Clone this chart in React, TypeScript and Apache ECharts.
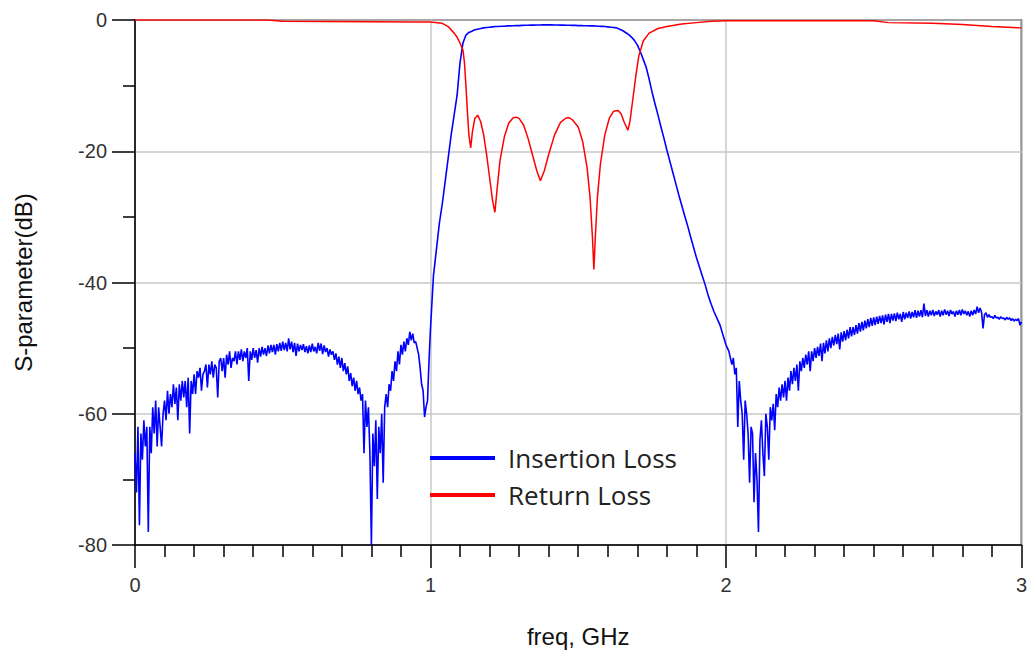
import React, { useEffect, useRef } from "react";
import * as echarts from "echarts";

// Insertion loss, stop band below the filter: 0.000 .. 0.995 GHz, every 0.005 GHz
const lowBandStart = 0;
const lowBandStep = 0.005;
const lowBandDb = [
  -66, -72, -62, -77, -63, -67, -61, -65, -62, -78,
  -62, -66, -59, -63, -58, -65, -59, -62, -65, -60,
  -58, -61, -56.5, -60, -57, -59, -55.5, -58.5, -56, -61,
  -55.5, -58, -55, -57.5, -55, -59, -54.5, -63, -55, -57,
  -54, -57, -53.5, -54.5, -53, -56.5, -54, -53.5, -52.5, -56,
  -52.5, -54, -52, -54.5, -52.5, -53, -57.5, -52, -51.5, -53.5,
  -51.5, -54.5, -51, -52.5, -50.5, -53, -51.5, -52, -50.5, -52.5,
  -50.5, -51.8, -50.2, -52, -50.5, -51.5, -50, -55, -50.5, -51.8,
  -50, -51.5, -50.3, -52.2, -50, -51.3, -49.8, -51, -50, -51.2,
  -49.6, -50.8, -49.5, -50.6, -49.5, -51, -49.4, -50.5, -49.2, -50.4,
  -49, -50.3, -49.2, -50.5, -48.5, -50.2, -49, -50.6, -49.2, -51.2,
  -49.3, -50.5, -49.5, -50.3, -49.4, -50.6, -49.7, -50.8, -49.6, -50.6,
  -49.3, -50.5, -49.8, -50.8, -49.2, -50.4, -49.3, -50.9, -49.6, -50.6,
  -50, -51.3, -50.2, -51, -50.5, -51.8, -50.8, -52.5, -51.3, -53,
  -51.5, -53.5, -52.3, -54, -52.8, -55, -53.8, -55.8, -54.5, -56.5,
  -55, -57, -56, -58, -57, -66, -58, -62, -59, -66,
  -80, -63, -68, -61, -73, -62, -66, -60, -70.5, -59,
  -57, -59, -55.5, -56.5, -53.5, -55, -52, -53.5, -50.5, -52.5,
  -49.5, -51, -49, -50.5, -48.5, -49.5, -47.5, -48.8, -47.8, -49.2,
  -49, -50, -51, -53, -55.5, -56.5, -60.5, -59, -58, -52,
];

// Insertion loss, pass band and skirts: 1.00 .. 1.99 GHz, every 0.01 GHz
const passBandStart = 1;
const passBandStep = 0.01;
const passBandDb = [
  -47, -39, -35, -31, -28, -24.5, -21, -17.5, -14.5, -11.5,
  -6.5, -3.5, -2.3, -1.9, -1.7, -1.5, -1.4, -1.3, -1.2, -1.15,
  -1.1, -1.05, -1.0, -1.0, -0.95, -0.95, -0.9, -0.9, -0.88, -0.85,
  -0.85, -0.82, -0.8, -0.8, -0.78, -0.78, -0.76, -0.76, -0.75, -0.75,
  -0.75, -0.75, -0.76, -0.76, -0.78, -0.78, -0.8, -0.8, -0.82, -0.82,
  -0.85, -0.85, -0.88, -0.88, -0.9, -0.9, -0.92, -0.95, -0.97, -1.0,
  -1.05, -1.1, -1.15, -1.2, -1.4, -1.6, -1.9, -2.2, -2.6, -3.1,
  -3.8, -4.8, -6, -7.2, -9, -11, -12.8, -14.5, -16.3, -18,
  -19.8, -21.5, -23.2, -24.9, -26.6, -28.2, -29.8, -31.3, -33, -34.6,
  -36.2, -37.6, -39, -40.4, -42, -43.3, -44.5, -45.5, -46.5, -48,
];

// Insertion loss, stop band above the filter: 2.000 .. 3.000 GHz, every 0.005 GHz
const highBandStart = 2;
const highBandStep = 0.005;
const highBandDb = [
  -49.5, -50, -50.5, -51.5, -52.5, -51.5, -54, -53, -62, -55,
  -58, -60, -67, -58, -60, -63, -70.5, -62, -63, -73.5,
  -66, -70, -78, -64, -61, -66, -69.5, -60, -62, -67,
  -59, -61, -58.5, -62.5, -57, -59, -56, -58, -55.5, -57.5,
  -55, -58, -54.5, -56.5, -53.5, -55.5, -53, -55, -52.5, -56.5,
  -52, -53.5, -51.5, -53, -51, -52.5, -50.5, -53.5, -50.5, -52,
  -50, -51.5, -49.8, -51.2, -49.3, -52, -49.2, -50.8, -48.8, -50.5,
  -48.5, -50, -48.3, -49.6, -48, -49.4, -47.8, -50.2, -47.6, -49,
  -47.4, -48.8, -47.2, -48.5, -46.8, -48.2, -46.8, -48, -46.5, -47.8,
  -46.2, -47.5, -46, -47.3, -45.8, -47, -45.6, -46.8, -45.4, -46.6,
  -45.3, -46.5, -45.2, -46.3, -45.1, -46.2, -45, -46.4, -44.9, -46,
  -44.8, -46.2, -44.8, -45.8, -44.7, -45.9, -44.6, -45.6, -44.8, -46,
  -44.5, -45.6, -44.6, -45.4, -44.4, -45.5, -44.5, -45.3, -44.2, -45.4,
  -44.3, -45.2, -44.2, -45.3, -43.2, -45.1, -44.2, -45.2, -44.3, -45,
  -44.2, -45.1, -44.4, -44.9, -44.2, -45.2, -44.3, -45, -44.1, -44.9,
  -44.3, -45.1, -44.2, -44.8, -44.4, -45.2, -44.3, -44.9, -44.2, -45,
  -44.1, -44.8, -44.3, -45, -44.4, -45.2, -44.3, -45, -44.2, -44.8,
  -43.7, -44.6, -43.9, -44.5, -47, -44.9, -44.6, -45.3, -44.9, -45.3,
  -45.2, -45.5, -45, -45.4, -45.3, -45.6, -45.2, -45.5, -45.4, -45.7,
  -45.3, -45.6, -45.4, -45.8, -45.5, -45.9, -45.6, -45.8, -45.5, -46.5,
  -46,
];

// Return loss (freq GHz, dB)
const returnLossFreq = [
  0, 0.45, 0.5, 0.95, 1.0, 1.04, 1.06, 1.08, 1.09, 1.1, 1.11, 1.115, 1.12, 1.125, 1.13,
  1.136, 1.142, 1.15, 1.16, 1.17, 1.18, 1.19, 1.2, 1.21, 1.218, 1.225, 1.235, 1.25, 1.265,
  1.28, 1.29, 1.3, 1.315, 1.33, 1.345, 1.36, 1.372, 1.385, 1.4, 1.42, 1.44, 1.46, 1.47,
  1.48, 1.5, 1.515, 1.53, 1.54, 1.548, 1.553, 1.558, 1.565, 1.575, 1.59, 1.605, 1.62,
  1.635, 1.645, 1.655, 1.668, 1.675, 1.685, 1.695, 1.705, 1.72, 1.74, 1.77, 1.8, 1.85,
  1.9, 1.95, 2.0, 2.5, 2.55, 2.7, 2.8, 2.9, 3.0,
];
const returnLossDb = [
  0, 0, -0.2, -0.3, -0.3, -0.5, -1, -2, -2.6, -3.5, -4.6, -6.5, -10, -14, -17.5,
  -19.5, -17, -15, -14.5, -15.5, -17.5, -20.5, -24, -27.5, -29.3, -26, -21.5, -17.8, -15.7,
  -14.9, -14.8, -15, -16, -18, -20.5, -23, -24.5, -23, -20.5, -17.5, -15.6, -14.9, -14.9,
  -15.2, -16.3, -18.5, -22.5, -27, -33, -38, -33, -27, -22, -17.5, -15, -13.9,
  -13.8, -14.3, -15.5, -16.8, -15.5, -12, -8.5, -5.5, -3.2, -2, -1.3, -1, -0.6,
  -0.4, -0.2, -0.1, -0.1, -0.4, -0.5, -0.7, -1.0, -1.2,
];

const seriesNames = ["Insertion Loss", "Return Loss"];
const seriesColors = ["#0000ff", "#ff0000"];

function toPoints(start: number, step: number, values: number[]) {
  return values.map((v, i) => [+(start + i * step).toFixed(3), v]);
}

export default function App() {
  const ref = useRef<HTMLDivElement>(null);
  useEffect(() => {
    if (!ref.current) return;
    const chart = echarts.init(ref.current, undefined, { renderer: "svg" });
    const ilData = [
      ...toPoints(lowBandStart, lowBandStep, lowBandDb),
      ...toPoints(passBandStart, passBandStep, passBandDb),
      ...toPoints(highBandStart, highBandStep, highBandDb),
    ];
    const rlData = returnLossFreq.map((f, i) => [f, returnLossDb[i]]);
    const tickFont = "'Liberation Sans', Arial, sans-serif";
    const legendFont = "'Open Sans', 'Noto Sans', sans-serif";
    chart.setOption({
      animation: false,
      backgroundColor: "#ffffff",
      grid: {
        left: 135,
        right: 8,
        top: 20,
        bottom: 114,
        show: true,
        borderColor: "#000",
        borderWidth: 1.5,
      },
      legend: {
        orient: "vertical",
        left: 425,
        top: 440,
        icon: "rect",
        itemWidth: 65,
        itemHeight: 4,
        itemGap: 11,
        data: seriesNames,
        textStyle: {
          fontSize: 26,
          color: "#222",
          fontFamily: legendFont,
          padding: [0, 0, 0, 8],
        },
      },
      xAxis: {
        type: "value",
        min: 0,
        max: 3,
        interval: 1,
        name: "freq, GHz",
        nameLocation: "middle",
        nameGap: 79,
        nameTextStyle: { fontSize: 24, color: "#111", fontFamily: tickFont },
        axisLine: { onZero: false, lineStyle: { color: "#000", width: 1.5 } },
        axisTick: { length: 23, lineStyle: { color: "#000", width: 1.5 } },
        minorTick: { show: true, splitNumber: 10, length: 12, lineStyle: { color: "#000", width: 1.5 } },
        splitLine: { show: true, lineStyle: { color: "#c8c8c8", width: 1.5 } },
        axisLabel: { fontSize: 20, color: "#333", margin: 30, fontFamily: tickFont },
      },
      yAxis: {
        type: "value",
        min: -80,
        max: 0,
        interval: 20,
        name: "S-parameter(dB)",
        nameLocation: "middle",
        nameGap: 100,
        nameTextStyle: { fontSize: 24, color: "#111", fontFamily: tickFont },
        axisLine: { onZero: false, lineStyle: { color: "#000", width: 1.5 } },
        axisTick: { length: 23, lineStyle: { color: "#000", width: 1.5 } },
        minorTick: { show: true, splitNumber: 2, length: 12, lineStyle: { color: "#000", width: 1.5 } },
        splitLine: { show: true, lineStyle: { color: "#c8c8c8", width: 1.5 } },
        axisLabel: { fontSize: 20, color: "#333", margin: 28, fontFamily: tickFont },
      },
      series: [
        {
          name: seriesNames[0],
          type: "line",
          data: ilData,
          showSymbol: false,
          color: seriesColors[0],
          lineStyle: { color: seriesColors[0], width: 1.6 },
        },
        {
          name: seriesNames[1],
          type: "line",
          data: rlData,
          showSymbol: false,
          color: seriesColors[1],
          lineStyle: { color: seriesColors[1], width: 1.5 },
        },
      ],
    });
    return () => chart.dispose();
  }, []);
  return (
    <div
      ref={ref}
      style={{ position: "fixed", left: 0, top: 0, width: 1030, height: 659 }}
    />
  );
}
